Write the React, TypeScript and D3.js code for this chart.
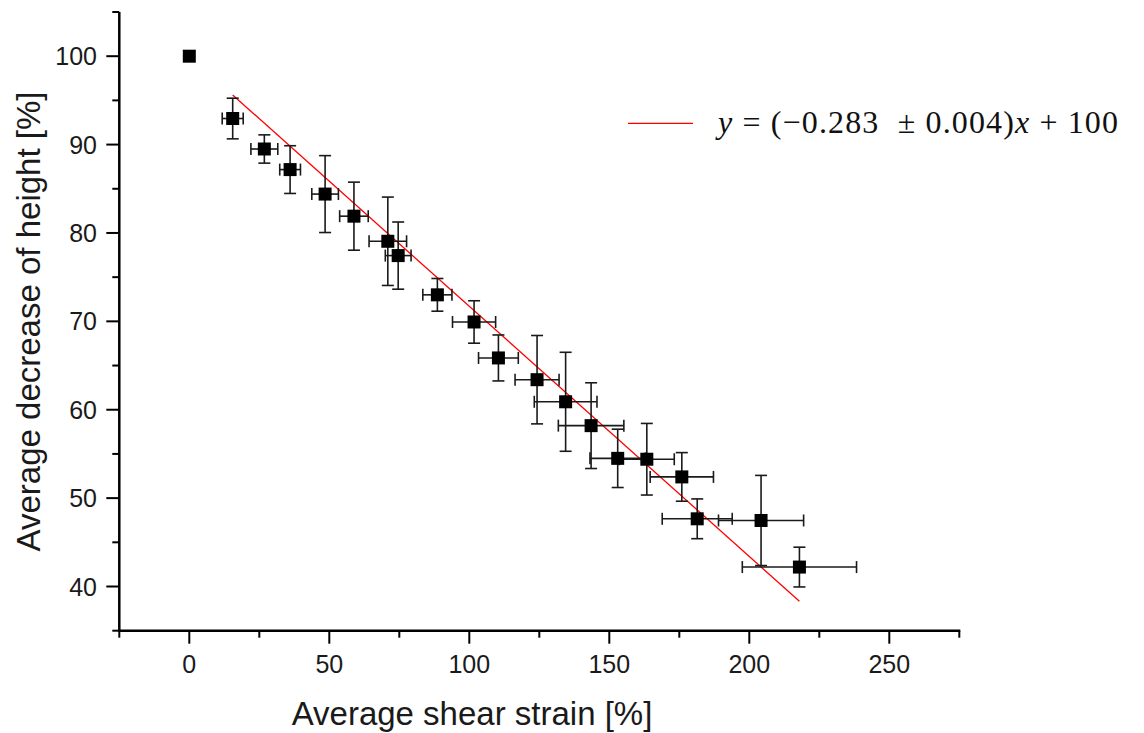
import React from "react";
import * as d3 from "d3";

// ---- data ----
const strainX = [0, 15.5, 26.8, 36.0, 48.5, 58.8, 70.9, 74.6, 88.6, 101.7, 110.4, 124.2, 134.4, 143.5, 153.0, 163.4, 175.9, 181.4, 204.2, 217.9];
const heightY = [100, 92.95, 89.5, 87.17, 84.4, 81.9, 79.06, 77.44, 73.0, 69.93, 65.86, 63.4, 60.9, 58.2, 54.5, 54.4, 52.4, 47.66, 47.47, 42.2];
const strainErr = [0, 3.75, 4.8, 3.7, 4.75, 5.1, 6.7, 4.6, 5.2, 7.7, 7.1, 7.86, 11.2, 11.7, 9.9, 9.8, 11.3, 12.5, 15.2, 20.4];
const heightErr = [0, 2.3, 1.6, 2.7, 4.35, 3.85, 5.0, 3.8, 1.85, 2.4, 2.6, 5.0, 5.6, 4.85, 3.3, 4.05, 2.75, 2.25, 5.1, 2.25];

const fitSlope = -0.283;
const fitIntercept = 100;
const fitRange = [15.5, 217.9];

const xMajorTicks = [0, 50, 100, 150, 200, 250];
const xMinorTicks = [-25, 25, 75, 125, 175, 225, 275];
const yMajorTicks = [40, 50, 60, 70, 80, 90, 100];
const yMinorTicks = [35, 45, 55, 65, 75, 85, 95, 105];

const xTitle = "Average shear strain [%]";
const yTitle = "Average decrease of height [%]";

export default function App() {
  const W = 1144, H = 733;
  const x = d3.scaleLinear().domain([-25, 275]).range([119.3, 959.3]);
  const y = d3.scaleLinear().domain([35, 105]).range([630.7, 12]);
  const [x0, x1] = x.range();
  const [yb, yt] = y.range();
  const sans = "'Liberation Sans', Arial, sans-serif";
  const cap = 6;
  const sq = 13;

  const fitLine = d3.line<number>().x((v) => x(v)).y((v) => y(fitSlope * v + fitIntercept));

  return (
    <svg width={W} height={H} style={{ position: "absolute", left: 0, top: 0, background: "#fff" }}>
      <rect x={0} y={0} width={W} height={H} fill="#fff" />
      {/* fit line */}
      <path d={fitLine(fitRange) || ""} stroke="#ff0000" strokeWidth={1.3} fill="none" />
      {/* error bars */}
      <g stroke="#1a1a1a" strokeWidth={1.6} fill="none">
        {strainX.map((xv, i) => {
          if (heightErr[i] === 0 && strainErr[i] === 0) return null;
          const cx = x(xv), cy = y(heightY[i]);
          const yTop = y(heightY[i] + heightErr[i]);
          const yBot = y(heightY[i] - heightErr[i]);
          const xl = x(xv - strainErr[i]);
          const xr = x(xv + strainErr[i]);
          return (
            <g key={i}>
              <line x1={cx} x2={cx} y1={yTop} y2={yBot} />
              <line x1={cx - cap} x2={cx + cap} y1={yTop} y2={yTop} />
              <line x1={cx - cap} x2={cx + cap} y1={yBot} y2={yBot} />
              <line x1={xl} x2={xr} y1={cy} y2={cy} />
              <line x1={xl} x2={xl} y1={cy - cap} y2={cy + cap} />
              <line x1={xr} x2={xr} y1={cy - cap} y2={cy + cap} />
            </g>
          );
        })}
      </g>
      {/* markers */}
      <g fill="#000">
        {strainX.map((xv, i) => (
          <rect key={i} x={x(xv) - sq / 2} y={y(heightY[i]) - sq / 2} width={sq} height={sq} />
        ))}
      </g>
      {/* axes */}
      <g stroke="#000">
        <line x1={x0} x2={x0} y1={yt} y2={yb + 1} strokeWidth={2.5} />
        <line x1={x0 - 1} x2={x1 + 1} y1={yb} y2={yb} strokeWidth={2.5} />
        {xMajorTicks.map((t) => (
          <line key={"xm" + t} x1={x(t)} x2={x(t)} y1={yb} y2={yb + 13} strokeWidth={2} />
        ))}
        {xMinorTicks.map((t) => (
          <line key={"xn" + t} x1={x(t)} x2={x(t)} y1={yb} y2={yb + 7} strokeWidth={2} />
        ))}
        {yMajorTicks.map((t) => (
          <line key={"ym" + t} x1={x0} x2={x0 - 13} y1={y(t)} y2={y(t)} strokeWidth={2} />
        ))}
        {yMinorTicks.map((t) => (
          <line key={"yn" + t} x1={x0} x2={x0 - 7} y1={y(t)} y2={y(t)} strokeWidth={2} />
        ))}
      </g>
      <g fontFamily={sans} fontSize={25} fill="#1a1a1a">
        {xMajorTicks.map((t) => (
          <text key={"xl" + t} x={x(t)} y={673} textAnchor="middle">{t}</text>
        ))}
        {yMajorTicks.map((t) => (
          <text key={"yl" + t} x={97} y={y(t) + 9} textAnchor="end">{t}</text>
        ))}
      </g>
      <text x={472} y={725} textAnchor="middle" fontFamily={sans} fontSize={33} fill="#1a1a1a">{xTitle}</text>
      <text transform={`translate(40, ${(91 + 552) / 2}) rotate(-90)`} textAnchor="middle" fontFamily={sans} fontSize={33} fill="#1a1a1a">{yTitle}</text>
      {/* legend */}
      <line x1={628} x2={693} y1={123.3} y2={123.3} stroke="#ff0000" strokeWidth={1.3} />
      <text x={718} y={133} fontFamily="'Liberation Serif', 'DejaVu Serif', serif" fontSize={32} fill="#111" textLength={400} lengthAdjust="spacing" style={{ whiteSpace: "pre" }}>
        <tspan fontStyle="italic">y</tspan>
        <tspan>{" = (−0.283  ± 0.004)"}</tspan>
        <tspan fontStyle="italic">x</tspan>
        <tspan>{" + 100"}</tspan>
      </text>
    </svg>
  );
}
